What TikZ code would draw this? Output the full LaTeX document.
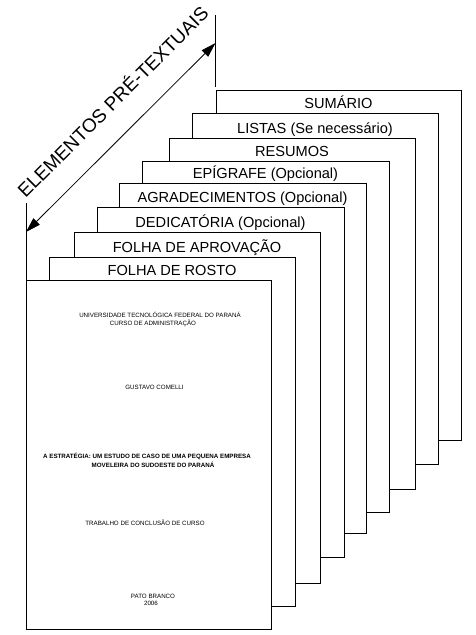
\documentclass[tikz,border=0pt]{standalone}
\usepackage{fontspec}
\setmainfont{Liberation Sans}
\usetikzlibrary{arrows.meta}
\begin{document}
\begin{tikzpicture}[x=1pt,y=-1pt,
  pagebox/.style={draw, fill=white, line width=0.9pt},
  lbl/.style={font=\fontsize{14.6}{16}\selectfont, anchor=base, inner sep=0pt},
  tiny/.style={font=\fontsize{6.2}{7}\selectfont, inner sep=0pt},
  tinyb/.style={font=\fontsize{6.2}{7}\selectfont\bfseries, inner sep=0pt},
  dimtip/.style={line width=0.8pt, {Triangle[length=15pt,width=9pt]}-{Triangle[length=15pt,width=9pt]}}]
\useasboundingbox (0,0) rectangle (475,635);
% pages, back to front
\draw[pagebox] (216,90) rectangle (461,440);
\node[lbl] (p8) at (338.5,108) {SUMÁRIO};
\draw[pagebox] (192,113) rectangle (438,464);
\node[lbl] (p7) at (315,133) {LISTAS (Se necessário)};
\draw[pagebox] (169,138) rectangle (415,489);
\node[lbl] (p6) at (292,156) {RESUMOS};
\draw[pagebox] (142,161) rectangle (389,512);
\node[lbl] (p5) at (265.5,178) {EPÍGRAFE (Opcional)};
\draw[pagebox] (119,183) rectangle (366,533);
\node[lbl] (p4) at (242.5,202) {AGRADECIMENTOS (Opcional)};
\draw[pagebox] (97,207) rectangle (344,557);
\node[lbl] (p3) at (220.5,227) {DEDICATÓRIA (Opcional)};
\draw[pagebox] (74,232) rectangle (320,583);
\node[lbl] (p2) at (197,252) {FOLHA DE APROVAÇÃO};
\draw[pagebox] (49,257) rectangle (295,606);
\node[lbl] (p1) at (172,275) {FOLHA DE ROSTO};
\draw[pagebox] (26,280) rectangle (271,629);
% front page text
\node[tiny] (t1) at (160,315) {UNIVERSIDADE TECNOLÓGICA FEDERAL DO PARANÁ};
\node[tiny] (t2) at (153,323) {CURSO DE ADMINISTRAÇÃO};
\node[tiny] (t3) at (154.5,387) {GUSTAVO COMELLI};
\node[tinyb] (t4) at (147,456.5) {A ESTRATÉGIA: UM ESTUDO DE CASO DE UMA PEQUENA EMPRESA};
\node[tinyb] (t5) at (153,464.5) {MOVELEIRA DO SUDOESTE DO PARANÁ};
\node[tiny] (t6) at (145,522.5) {TRABALHO DE CONCLUSÃO DE CURSO};
\node[tiny] (t7) at (153,596.5) {PATO BRANCO};
\node[tiny] (t8) at (151,603) {2006};
% dimension arrow
\coordinate (vt1) at (215.5,15);
\coordinate (vt2) at (215.5,87);
\coordinate (vb1) at (26,203);
\coordinate (vb2) at (26,280);
\draw[line width=0.9pt] (vt1) -- (vt2);
\draw[line width=0.9pt] (vb1) -- (vb2);
\coordinate (atop) at (215.5,43);
\coordinate (abot) at (26,232);
\draw[dimtip] (abot) -- (atop);
\node[font=\fontsize{19}{21}\selectfont, rotate=45, inner sep=0pt] (elem) at (112,101) {ELEMENTOS PRÉ-TEXTUAIS};
\end{tikzpicture}
\end{document}
